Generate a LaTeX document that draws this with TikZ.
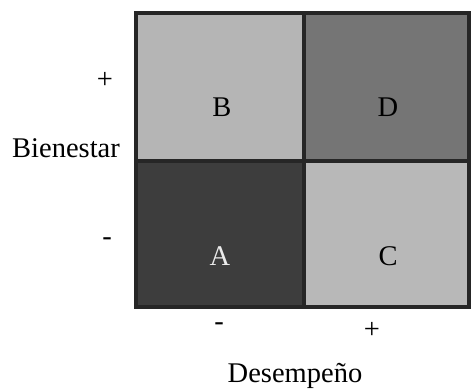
\documentclass[tikz,border=0pt]{standalone}
\usepackage{fontspec}
\setmainfont{Liberation Serif}
\begin{document}
\begin{tikzpicture}[x=1pt,y=-1pt,
  cell/.style={draw=black!85, line width=3.2pt},
  lbl/.style={font=\fontsize{28.5}{34}\selectfont, inner sep=0pt, anchor=center}]
\useasboundingbox (0,0) rectangle (471,389);
% quadrant cells
\path[cell, fill=black!29] (136,13) rectangle (304,161);
\path[cell, fill=black!54] (304,13) rectangle (469,161);
\path[cell, fill=black!76] (136,161) rectangle (304,307);
\path[cell, fill=black!28] (304,161) rectangle (469,307);
\node[lbl] (B) at (222,107) {B};
\node[lbl] (D) at (388,107) {D};
\node[lbl, text=white!92!black] (A) at (220,256) {A};
\node[lbl] (C) at (388,256) {C};
% vertical axis
\node[lbl] (yplus) at (105,80) {+};
\node[lbl] (yname) at (66,148) {Bienestar};
\node[lbl] (yminus) at (107,242) {-};
% horizontal axis
\node[lbl] (xminus) at (219,327) {-};
\node[lbl] (xplus) at (372,330) {+};
\node[lbl] (xname) at (295,376) {Desempeño};
\end{tikzpicture}
\end{document}
